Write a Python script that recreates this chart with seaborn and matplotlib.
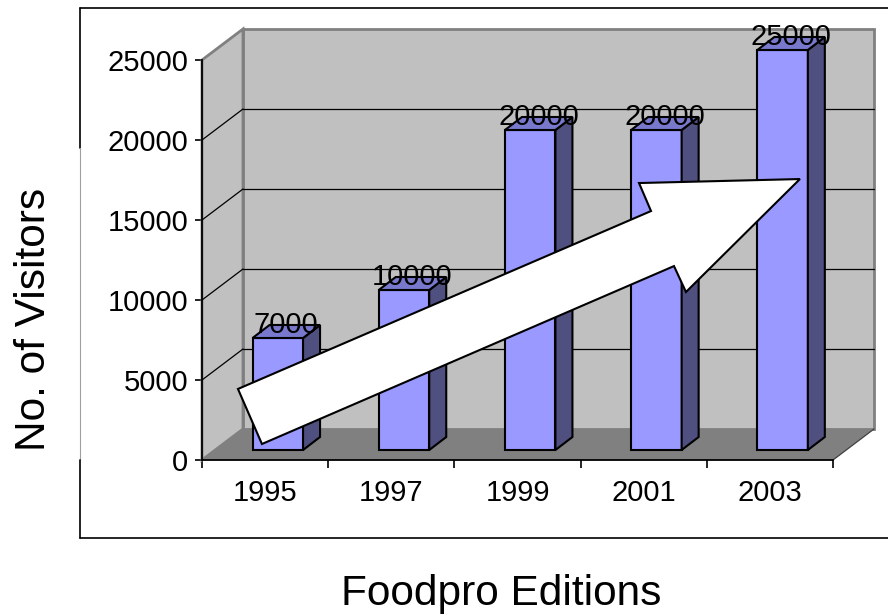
import numpy as np
import pandas as pd
import matplotlib
matplotlib.use("Agg")
import matplotlib.pyplot as plt
from matplotlib.patches import Polygon
from matplotlib.lines import Line2D
import seaborn as sns

# data
years = ["1995", "1997", "1999", "2001", "2003"]
visitors = [7000, 10000, 20000, 20000, 25000]
y_ticks = [0, 5000, 10000, 15000, 20000, 25000]

df = pd.DataFrame({"Edition": years, "Visitors": visitors})

sns.set_style("white")
plt.rcParams['font.family'] = ['Liberation Sans', 'DejaVu Sans']
plt.rcParams['text.color'] = 'black'
plt.rcParams['xtick.color'] = 'black'
plt.rcParams['ytick.color'] = 'black'
plt.rcParams['axes.labelcolor'] = 'black'

fig = plt.figure(figsize=(8.88, 6.16), dpi=100)
W, H = 888, 616
# front plane of the 3d box, in pixels
L, R, T, B = 202, 833, 60, 460
ax = fig.add_axes([L / W, 1 - B / H, (R - L) / W, (B - T) / H])
ax.set_xlim(-0.5, 4.5)
ax.set_ylim(0, 25000)
ax.set_facecolor("none")

# pixel -> data unit helpers
px_x = (R - L) / 5.0
px_y = (B - T) / 25000.0
def dx(p):
    return p / px_x
def dy(p):
    return p / px_y

# depth of the floor / walls
FX, FY = dx(41), dy(31)

wall_c = "#C0C0C0"
floor_c = "#808080"
edge_c = "#808080"

# back wall + side wall + floor
ax.add_patch(Polygon([(-0.5 + FX, FY), (4.5 + FX, FY), (4.5 + FX, 25000 + FY), (-0.5 + FX, 25000 + FY)],
                     closed=True, facecolor=wall_c, edgecolor=edge_c, lw=2, zorder=0.5, clip_on=False))
ax.add_patch(Polygon([(-0.5, 0), (-0.5, 25000), (-0.5 + FX, 25000 + FY), (-0.5 + FX, FY)],
                     closed=True, facecolor=wall_c, edgecolor=edge_c, lw=2, zorder=0.6, clip_on=False))
for t in y_ticks[1:-1]:
    ax.plot([-0.5 + FX, 4.5 + FX], [t + FY, t + FY], color="black", lw=0.9, zorder=0.7, clip_on=False)
    ax.plot([-0.5, -0.5 + FX], [t, t + FY], color="black", lw=0.9, zorder=0.7, clip_on=False)
ax.add_patch(Polygon([(-0.5, 0), (4.5, 0), (4.5 + FX, FY), (-0.5 + FX, FY)],
                     closed=True, facecolor=floor_c, edgecolor="none", zorder=0.8, clip_on=False))
ax.plot([4.5, 4.5 + FX], [0, FY], color="#404040", lw=0.9, zorder=0.9, clip_on=False)

# bars (front faces)
sns.barplot(data=df, x="Edition", y="Visitors", color="#9999FF", saturation=1,
            width=0.4, edgecolor="black", linewidth=1.5, ax=ax, zorder=3)
bars = list(ax.patches)[-len(years):]

# bars sit a little way back on the floor
BX, BY = dx(12.7), dy(10)
DX, DY = dx(17), dy(13)
for p, v in zip(bars, visitors):
    p.set_x(p.get_x() + BX)
    p.set_y(BY)
    p.set_zorder(3)
    p.set_clip_on(False)
    x0, w, h = p.get_x(), p.get_width(), p.get_height()
    top = BY + h
    ax.add_patch(Polygon([(x0 + w, BY), (x0 + w + DX, BY + DY), (x0 + w + DX, top + DY), (x0 + w, top)],
                         closed=True, facecolor="#4F4F80", edgecolor="black", lw=1.5, zorder=3.1, clip_on=False))
    ax.add_patch(Polygon([(x0, top), (x0 + w, top), (x0 + w + DX, top + DY), (x0 + DX, top + DY)],
                         closed=True, facecolor="#7878CC", edgecolor="black", lw=1.5, zorder=3.2, clip_on=False))
    ax.text(x0 + w / 2 + DX / 2, top + dy(5), f"{v}", ha="center", va="baseline",
            fontsize=21, color="black", zorder=4, clip_on=False)

# big white trend arrow
arrow = [(-0.025, 1000), (-0.215, 4440), (3.058, 15560), (2.963, 17310),
         (4.238, 17560), (3.335, 10500), (3.240, 12120)]
ax.add_patch(Polygon(arrow, closed=True, facecolor="white", edgecolor="black",
                     lw=1.5, joinstyle="miter", zorder=5, clip_on=False))

# axes, ticks
sns.despine(ax=ax, top=True, right=True)
for s in ("left", "bottom"):
    ax.spines[s].set_color("black")
    ax.spines[s].set_linewidth(1.3)
    ax.spines[s].set_zorder(2)
ax.set_yticks(y_ticks)
ax.set_yticklabels([str(t) for t in y_ticks])
ax.set_xticks(np.arange(-0.5, 5.0, 1.0))
ax.set_xticklabels([])
ax.set_xticks(range(len(years)), labels=years, minor=True)
ax.tick_params(axis="y", which="major", direction="out", length=5, width=1.2,
               color="black", labelcolor="black", labelsize=21, pad=5, left=True)
ax.tick_params(axis="x", which="major", direction="out", length=6, width=1.2,
               color="black", bottom=True)
ax.tick_params(axis="x", which="minor", length=0, labelsize=21, labelcolor="black", pad=14)
ax.set_xlabel("")
ax.set_ylabel("")

fig.text(501 / W, 1 - 605 / H, "Foodpro Editions", ha="center", va="baseline",
         fontsize=30.5, color="black")
fig.text(45 / W, 1 - 319 / H, "No. of Visitors", ha="center", va="baseline",
         rotation=90, rotation_mode="anchor", fontsize=30.5, color="black")

# outer chart frame
def fl(x0, y0, x1, y1, c="black", lw=1.2):
    fig.add_artist(Line2D([x0 / W, x1 / W], [1 - y0 / H, 1 - y1 / H], color=c, lw=lw))
fl(80, 8, 890, 8)
fl(80, 538, 890, 538)
fl(80, 8, 80, 148)
fl(80, 148, 80, 460, c="#A0A0A0", lw=0.8)
fl(80, 460, 80, 538)

fig.savefig("out.png", dpi=100)
